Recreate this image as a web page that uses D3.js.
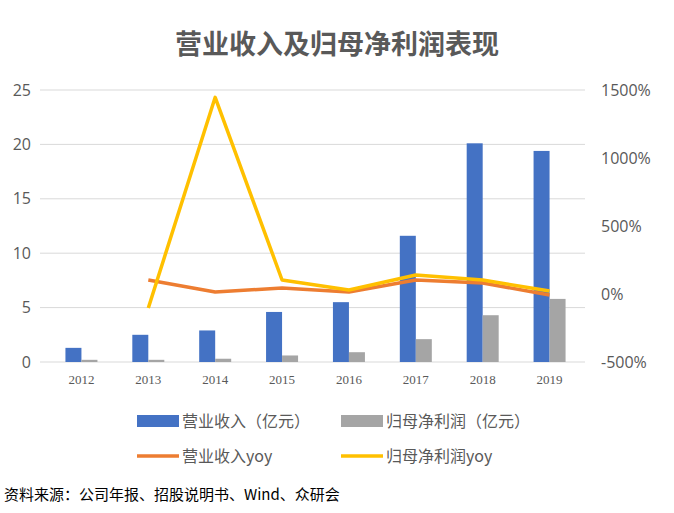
<!DOCTYPE html>
<html><head><meta charset="utf-8">
<script src="https://cdn.jsdelivr.net/npm/d3@7"></script>
<style>body{margin:0;background:#fff;}</style>
</head><body><div id="chart"></div>
<script>
const years = ["2012","2013","2014","2015","2016","2017","2018","2019"];
const revenue = [1.3, 2.5, 2.9, 4.6, 5.5, 11.6, 20.1, 19.4];
const netProfit = [0.2, 0.2, 0.3, 0.6, 0.9, 2.1, 4.3, 5.8];
const revenueYoy = [null, 103, 15, 44, 15, 103, 81, -7];
const profitYoy = [null, -103, 1446, 103, 30, 140, 103, 22];
const leftTicks = [0, 5, 10, 15, 20, 25];
const rightTicks = [-500, 0, 500, 1000, 1500];

const width = 674, height = 513;
const marginLeft = 40, marginRight = 89, marginTop = 90, marginBottom = 151;
const font = "'Noto Sans CJK SC', 'Noto Sans', sans-serif";

const svg = d3.select("#chart").append("svg")
    .attr("width", width).attr("height", height)
    .style("font-family", font);

const x = d3.scaleBand().domain(years)
    .range([marginLeft + 8, width - marginRight - 2]).paddingInner(0).paddingOuter(0);
const y = d3.scaleLinear().domain([0, 25]).range([height - marginBottom, marginTop]);
const y2 = d3.scaleLinear().domain([-500, 1500]).range([height - marginBottom, marginTop]);

// Title
svg.append("text").attr("x", 337).attr("y", 54).attr("text-anchor", "middle")
    .attr("font-size", 27).attr("font-weight", "bold").attr("fill", "#595959")
    .text("营业收入及归母净利润表现");

// Grid lines
svg.append("g").selectAll("line").data(leftTicks).join("line")
    .attr("x1", marginLeft).attr("x2", width - marginRight)
    .attr("y1", d => y(d)).attr("y2", d => y(d))
    .attr("stroke", "#d9d9d9").attr("stroke-width", 1);

// Left axis
const yAxis = svg.append("g").attr("transform", `translate(${marginLeft - 6},0)`)
    .call(d3.axisLeft(y).tickValues(leftTicks).tickSize(0));
yAxis.select(".domain").remove();
yAxis.selectAll("text").attr("font-size", 16).attr("fill", "#595959")
    .attr("font-family", "'Open Sans', sans-serif");

// Right axis
const yAxisR = svg.append("g").attr("transform", `translate(${width - marginRight + 13},0)`)
    .call(d3.axisRight(y2).tickValues(rightTicks).tickSize(0).tickFormat(d => d + "%"));
yAxisR.select(".domain").remove();
yAxisR.selectAll("text").attr("font-size", 16).attr("fill", "#595959")
    .attr("font-family", "'Open Sans', sans-serif");

// X labels
const xAxis = svg.append("g").attr("transform", `translate(0,${height - marginBottom + 10})`)
    .call(d3.axisBottom(x).tickSize(0));
xAxis.select(".domain").remove();
xAxis.selectAll("text").attr("font-size", 13).attr("fill", "#595959")
    .attr("font-family", "'Liberation Serif', serif");

const bw = 16;
svg.append("g").selectAll("rect").data(revenue).join("rect")
    .attr("x", (d, i) => x(years[i]) + x.bandwidth() / 2 - bw)
    .attr("width", bw).attr("y", d => y(d)).attr("height", d => y(0) - y(d))
    .attr("fill", "#4472c4");
svg.append("g").selectAll("rect").data(netProfit).join("rect")
    .attr("x", (d, i) => x(years[i]) + x.bandwidth() / 2)
    .attr("width", bw).attr("y", d => y(d)).attr("height", d => y(0) - y(d))
    .attr("fill", "#a5a5a5");

const line = d3.line()
    .defined(d => d.v !== null)
    .x(d => x(d.year) + x.bandwidth() / 2)
    .y(d => y2(d.v));

svg.append("path").datum(years.map((yr, i) => ({year: yr, v: revenueYoy[i]})))
    .attr("fill", "none").attr("stroke", "#ed7d31").attr("stroke-width", 3.5)
    .attr("stroke-linejoin", "round").attr("d", line);
svg.append("path").datum(years.map((yr, i) => ({year: yr, v: profitYoy[i]})))
    .attr("fill", "none").attr("stroke", "#ffc000").attr("stroke-width", 3.5)
    .attr("stroke-linejoin", "round").attr("d", line);

// Legend
const legend = [
    {label: "营业收入（亿元）", color: "#4472c4", type: "rect", x: 137, y: 421},
    {label: "归母净利润（亿元）", color: "#a5a5a5", type: "rect", x: 341, y: 421},
    {label: "营业收入yoy", color: "#ed7d31", type: "line", x: 137, y: 456},
    {label: "归母净利润yoy", color: "#ffc000", type: "line", x: 341, y: 456}
];
const lg = svg.append("g").selectAll("g").data(legend).join("g")
    .attr("transform", d => `translate(${d.x},${d.y})`);
lg.filter(d => d.type === "rect").append("rect")
    .attr("x", 0).attr("y", -6).attr("width", 42).attr("height", 12).attr("fill", d => d.color);
lg.filter(d => d.type === "line").append("line")
    .attr("x1", 0).attr("x2", 42).attr("y1", 0).attr("y2", 0)
    .attr("stroke", d => d.color).attr("stroke-width", 3.5);
lg.append("text").attr("x", 45).attr("y", 6).attr("font-size", 16).attr("fill", "#595959")
    .text(d => d.label);

// Source
svg.append("text").attr("x", 4).attr("y", 500).attr("font-size", 15).attr("fill", "#000")
    .text("资料来源：公司年报、招股说明书、Wind、众研会");
</script></body></html>
